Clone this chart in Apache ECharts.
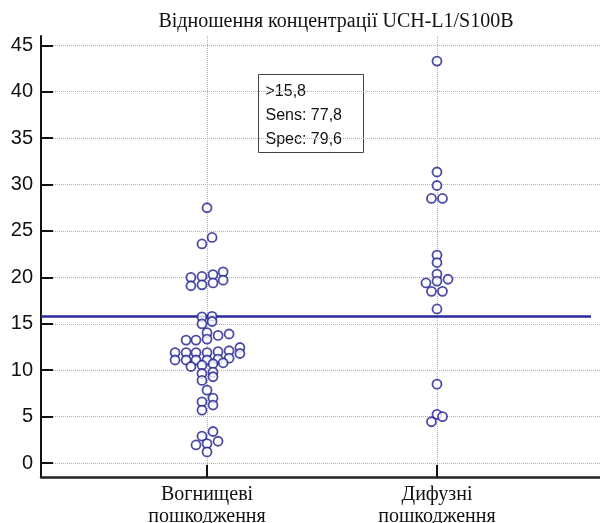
<!DOCTYPE html>
<html>

<head>
    <meta charset="utf-8">
    <script src="https://cdn.jsdelivr.net/npm/echarts@6/dist/echarts.min.js"></script>
    <style>
        html, body { margin: 0; padding: 0; background: #fff; }
    </style>
</head>

<body>
    <div id="main" style="width: 600px;height:523px;"></div>

    <script type="text/javascript">
        // категорії (позиції на осі X: 1 і 2)
        var categories = ['Вогнищеві\nпошкодження', 'Дифузні\nпошкодження'];
        var yTicks = [0, 5, 10, 15, 20, 25, 30, 35, 40, 45];

        // вогнищеві пошкодження: значення та горизонтальний розкид (у частках категорії)
        var focalValues = [27.5, 24.3, 23.6,
            20.0, 19.1, 20.1, 19.2, 20.3, 19.4, 20.6, 19.7,
            15.75, 15.0, 15.8, 15.25,
            14.05, 13.35, 13.75, 13.9, 13.25, 13.25,
            11.9, 11.1, 11.9, 11.1, 11.9, 11.1, 11.9, 11.1, 12.0, 11.2, 12.1, 11.3, 12.45, 11.8,
            10.4, 10.55, 10.7, 10.8, 9.65, 8.9, 9.8, 9.3,
            7.85, 7.0, 6.25, 6.6, 5.7,
            3.4, 2.9, 1.95, 2.1, 2.35, 1.2];
        var focalJitter = [0, 0.022, -0.022,
            -0.07, -0.07, -0.022, -0.022, 0.026, 0.026, 0.07, 0.07,
            -0.022, -0.022, 0.022, 0.022,
            0, 0, 0.048, 0.096, -0.091, -0.048,
            -0.139, -0.139, -0.091, -0.091, -0.048, -0.048, 0, 0, 0.048, 0.048, 0.096, 0.096, 0.143, 0.143,
            -0.07, -0.022, 0.026, 0.07, -0.022, -0.022, 0.026, 0.026,
            0, 0.026, 0.026, -0.022, -0.022,
            0.026, -0.022, -0.048, 0, 0.048, 0];

        // дифузні пошкодження
        var diffuseValues = [43.3, 31.35, 29.9, 28.5, 28.5,
            22.4, 21.6, 20.35, 19.6, 19.4, 19.8, 18.5, 18.5, 16.6,
            8.5, 5.25, 5.0, 4.45];
        var diffuseJitter = [0, 0, 0, -0.024, 0.024,
            0, 0, 0, 0, -0.048, 0.048, -0.024, 0.024, 0,
            0, 0, 0.024, -0.024];

        // поріг
        var cutoff = 15.8;
        var cutoffSpan = [0.278, 2.67];
        var boxLines = ['>15,8', 'Sens: 77,8', 'Spec: 79,6'];

        function toPoints(values, jitter, pos) {
            return values.map(function(v, i) {
                return [pos + jitter[i], v];
            });
        }

        var dotStyle = {
            color: '#fff',
            borderColor: '#1e1e8e',
            borderWidth: 1.8
        };

        var myChart = echarts.init(document.getElementById('main'));

        option = {
            animation: false,
            title: {
                text: 'Відношення концентрації UCH-L1/S100B',
                left: 331,
                top: 7,
                textAlign: 'center',
                textStyle: {
                    fontFamily: 'Liberation Serif',
                    fontSize: 20,
                    fontWeight: 'normal',
                    color: '#111'
                }
            },
            grid: {
                left: 41,
                top: 36,
                width: 562,
                height: 441,
                containLabel: false,
                outerBoundsMode: 'none'
            },
            xAxis: {
                type: 'value',
                min: 0.278,
                max: 2.722,
                axisLine: { onZero: false, lineStyle: { color: '#222', width: 2.5 } },
                axisTick: {
                    customValues: [1, 2],
                    inside: true,
                    length: 12,
                    lineStyle: { color: '#111', width: 2 }
                },
                axisLabel: {
                    customValues: [1, 2],
                    formatter: function(v) { return categories[Math.round(v) - 1]; },
                    fontFamily: 'Liberation Serif',
                    fontSize: 20,
                    lineHeight: 22,
                    color: '#111',
                    margin: 7
                },
                splitLine: {
                    show: true,
                    lineStyle: { color: '#b0b0b0', type: 'dotted', width: 1 }
                }
            },
            yAxis: {
                type: 'value',
                min: -1.5,
                max: 46,
                axisLine: { show: true, onZero: false, lineStyle: { color: '#111', width: 2 } },
                axisTick: {
                    customValues: yTicks,
                    inside: true,
                    length: 12,
                    lineStyle: { color: '#111', width: 2 }
                },
                axisLabel: {
                    customValues: yTicks,
                    fontFamily: 'Liberation Sans',
                    fontSize: 20,
                    color: '#111',
                    margin: 8
                },
                splitLine: {
                    show: true,
                    lineStyle: { color: '#b0b0b0', type: 'dotted', width: 1 }
                }
            },
            series: [{
                name: 'cutoff',
                type: 'line',
                data: [[cutoffSpan[0], cutoff], [cutoffSpan[1], cutoff]],
                symbol: 'none',
                lineStyle: { color: '#2a2a9c', width: 2.5 },
                z: 1
            }, {
                name: 'focal',
                type: 'scatter',
                symbol: 'circle',
                symbolSize: 9,
                itemStyle: dotStyle,
                data: toPoints(focalValues, focalJitter, 1),
                z: 3
            }, {
                name: 'diffuse',
                type: 'scatter',
                symbol: 'circle',
                symbolSize: 9,
                itemStyle: dotStyle,
                data: toPoints(diffuseValues, diffuseJitter, 2),
                z: 3
            }],
            graphic: [{
                type: 'group',
                left: 258,
                top: 74,
                z: 10,
                children: [{
                    type: 'rect',
                    shape: { x: 0, y: 0, width: 105, height: 78 },
                    style: { fill: '#fff', stroke: '#444', lineWidth: 1 }
                }, {
                    type: 'text',
                    x: 7,
                    y: 5,
                    style: {
                        text: boxLines.join('\n'),
                        font: '16px "Liberation Sans"',
                        lineHeight: 24,
                        fill: '#111'
                    }
                }]
            }]
        };
        myChart.setOption(option);
    </script>
</body>

</html>
